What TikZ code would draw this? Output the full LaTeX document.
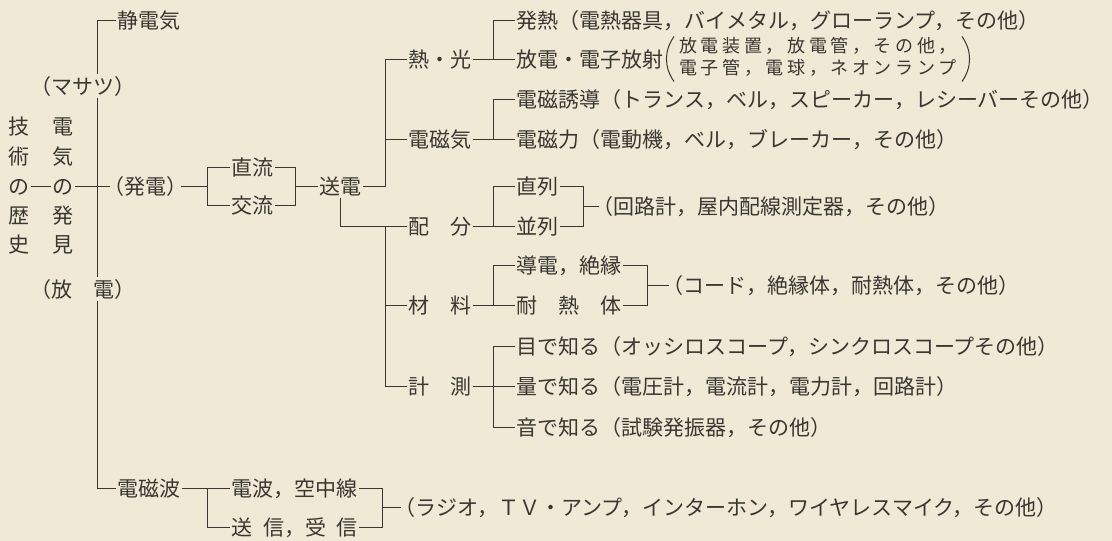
\documentclass[tikz,border=0pt]{standalone}
\usepackage{fontspec}
\newfontfamily\jp{Noto Sans CJK JP}
\definecolor{paper}{HTML}{F0E9D5}
\definecolor{ink}{HTML}{3A3631}
\newcommand\fsz{\fontsize{21}{24}\selectfont}
\newcommand\fss{\fontsize{18}{21}\selectfont}
\tikzset{
  lbl/.style={font=\jp\fsz, text=ink, inner sep=0pt, outer sep=1.5pt, anchor=west, text height=18.5pt, text depth=2.5pt},
  clbl/.style={lbl, anchor=center},
  conn/.style={draw=ink, line width=0.8pt},
  paren/.style={draw=ink, line width=1pt},
}
\begin{document}
\begin{tikzpicture}[x=1pt,y=-1pt]
\fill[paper] (0,0) rectangle (1112,541);
\useasboundingbox (0,0) rectangle (1112,541);
% junction columns
\coordinate (v0) at (97,0);
\coordinate (j1) at (207,0);
\coordinate (j2) at (295,0);
\coordinate (js) at (340,0);
\coordinate (j3) at (385,0);
\coordinate (j5) at (493,0);
\coordinate (j8) at (583,0);
\coordinate (j10) at (647,0);
\coordinate (j13) at (382,0);
% left part
\node[lbl] (sei) at (116,20) {静電気};
\node[clbl] (masatsu) at (83,86) {（マサツ）};
\node[clbl] (t1) at (19,126) {技};
\node[clbl] (t2) at (19,156) {術};
\node[clbl] (t3) at (19,186) {の};
\node[clbl] (t4) at (19,215) {歴};
\node[clbl] (t5) at (19,244) {史};
\node[clbl] (d1) at (63,126) {電};
\node[clbl] (d2) at (63,156) {気};
\node[clbl] (d3) at (63,186) {の};
\node[clbl] (d4) at (63,215) {発};
\node[clbl] (d5) at (63,244) {見};
\node[clbl] (houden) at (83,289) {（放　電）};
\node[lbl] (hatsuden) at (102,186) {（発電）};
\node[lbl] (choku) at (230,167) {直流};
\node[lbl] (kou) at (230,205) {交流};
\node[lbl] (soden) at (318,186) {送電};
% level 2
\node[lbl] (netsu) at (407,59) {熱・光};
\node[lbl] (denjiki) at (407,139) {電磁気};
\node[lbl] (haibun) at (407,226) {配　分};
\node[lbl] (zairyo) at (407,305) {材　料};
\node[lbl] (keisoku) at (407,386) {計　測};
% level 3
\node[lbl] (hatsunetsu) at (515,20) {発熱（電熱器具，バイメタル，グローランプ，その他）};
\node[lbl] (hoden) at (515,59) {放電・電子放射};
\node[anchor=west, inner sep=0pt, outer sep=0pt, text=ink, font=\jp\fss] (hodenx) at (679,59)
  {\begin{tabular}{@{}l@{}}\makebox[278pt][s]{放\hfill 電\hfill 装\hfill 置\hfill ，\hfill 放\hfill 電\hfill 管\hfill ，\hfill そ\hfill の\hfill 他\hfill ，}\\
  \makebox[278pt][s]{電\hfill 子\hfill 管\hfill ，\hfill 電\hfill 球\hfill ，\hfill ネ\hfill オ\hfill ン\hfill ラ\hfill ン\hfill プ}\end{tabular}};
\node[lbl] (yudo) at (515,99) {電磁誘導（トランス，ベル，スピーカー，レシーバーその他）};
\node[lbl] (ryoku) at (515,139) {電磁力（電動機，ベル，ブレーカー，その他）};
\node[lbl] (chokuretsu) at (515,186) {直列};
\node[lbl] (heiretsu) at (515,226) {並列};
\node[lbl] (kairo) at (591,206) {（回路計，屋内配線測定器，その他）};
\node[lbl] (doden) at (515,265) {導電，絶縁};
\node[lbl] (tainetsu) at (515,305) {耐　熱　体};
\node[lbl] (code) at (661,285) {（コード，絶縁体，耐熱体，その他）};
\node[lbl] (me) at (515,346) {目で知る（オッシロスコープ，シンクロスコープその他）};
\node[lbl] (ryo) at (515,386) {量で知る（電圧計，電流計，電力計，回路計）};
\node[lbl] (oto) at (515,427) {音で知る（試験発振器，その他）};
\node[lbl] (denjiha) at (116,488) {電磁波};
\node[lbl] (denpa) at (230,488) {電波，空中線};
\node[lbl] (soju) at (230,527) {送\hspace{0.5em}信，受\hspace{0.5em}信};
\node[lbl] (radio) at (393,507) {（ラジオ，ＴＶ・アンプ，インターホン，ワイヤレスマイク，その他）};
% big parentheses around the two-line list
\draw[paren] ([xshift=-5pt,yshift=1pt]hodenx.north west) to[bend right=35] ([xshift=-5pt,yshift=-1pt]hodenx.south west);
\draw[paren] ([xshift=5pt,yshift=1pt]hodenx.north east) to[bend left=35] ([xshift=5pt,yshift=-1pt]hodenx.south east);
% connectors
\draw[conn] (sei.west) -| (v0 |- masatsu.north);
\draw[conn] (v0 |- masatsu.south) -- (v0 |- houden.north);
\draw[conn] (v0 |- houden.south) |- (denjiha.west);
\draw[conn] (t3.east) -- (d3.west);
\draw[conn] (d3.east) -- (d3.east -| v0);
\draw[conn] (v0 |- hatsuden.west) -- ([xshift=8pt]hatsuden.west);
\draw[conn] ([xshift=-8pt]hatsuden.east) -- (hatsuden.east -| j1);
\draw[conn] (choku.west) -| (j1 |- kou.west) -- (kou.west);
\draw[conn] (choku.east) -| (j2 |- kou.east) -- (kou.east);
\draw[conn] (j2 |- soden.west) -- (soden.west);
\draw[conn] (soden.east) -| (j3 |- netsu.west) -- (netsu.west);
\draw[conn] (j3 |- denjiki.west) -- (denjiki.west);
\draw[conn] (js |- soden.south) |- (haibun.west);
\draw[conn] (j3 |- haibun.west) |- (keisoku.west);
\draw[conn] (j3 |- zairyo.west) -- (zairyo.west);
\draw[conn] (netsu.east) -| (j5 |- hatsunetsu.west) -- (hatsunetsu.west);
\draw[conn] (j5 |- hoden.west) -- (hoden.west);
\draw[conn] (denjiki.east) -| (j5 |- yudo.west) -- (yudo.west);
\draw[conn] (j5 |- ryoku.west) -- (ryoku.west);
\draw[conn] (haibun.east) -| (j5 |- chokuretsu.west) -- (chokuretsu.west);
\draw[conn] (j5 |- heiretsu.west) -- (heiretsu.west);
\draw[conn] (chokuretsu.east) -| (j8 |- heiretsu.east) -- (heiretsu.east);
\draw[conn] (j8 |- kairo.west) -- ([xshift=8pt]kairo.west);
\draw[conn] (zairyo.east) -| (j5 |- doden.west) -- (doden.west);
\draw[conn] (j5 |- tainetsu.west) -- (tainetsu.west);
\draw[conn] (doden.east) -| (j10 |- tainetsu.east) -- (tainetsu.east);
\draw[conn] (j10 |- code.west) -- ([xshift=8pt]code.west);
\draw[conn] (keisoku.east) -- (keisoku.east -| j5);
\draw[conn] (me.west) -| (j5 |- oto.west) -- (oto.west);
\draw[conn] (j5 |- ryo.west) -- (ryo.west);
\draw[conn] (denjiha.east) -| (j1 |- soju.west) -- (soju.west);
\draw[conn] (j1 |- denpa.west) -- (denpa.west);
\draw[conn] (denpa.east) -| (j13 |- soju.east) -- (soju.east);
\draw[conn] (j13 |- radio.west) -- ([xshift=8pt]radio.west);
\end{tikzpicture}
\end{document}
